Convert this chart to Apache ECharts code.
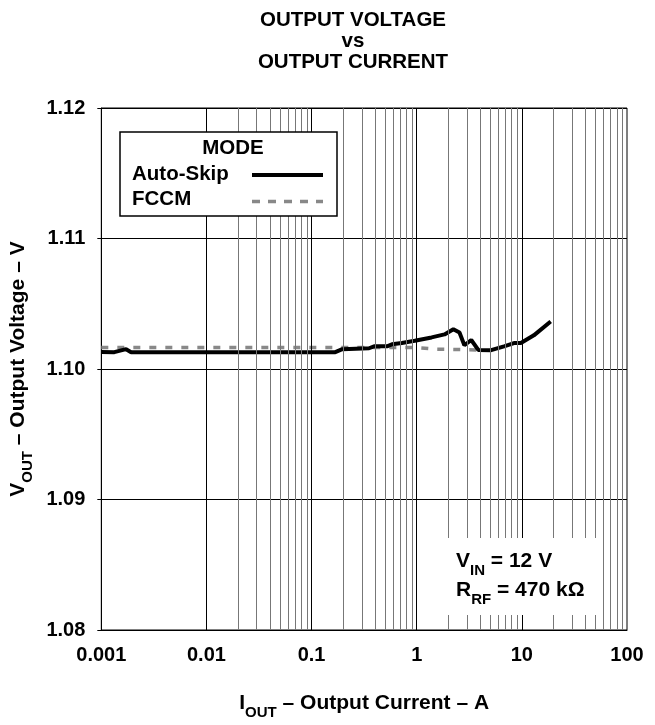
<!DOCTYPE html>
<html>
<head>
<meta charset="utf-8">
<script src="https://cdn.jsdelivr.net/npm/echarts@6/dist/echarts.min.js"></script>
<style>
html,body{margin:0;padding:0;background:#fff;}
#c{width:655px;height:725px;}
</style>
</head>
<body>
<div id="c"></div>
<script>
// ---- data ----
const xTicks = [0.001, 0.01, 0.1, 1, 10, 100];
const yTicks = [1.08, 1.09, 1.10, 1.11, 1.12];

const autoSkipI = [0.001, 0.00133, 0.00172, 0.00192, 0.168, 0.196, 0.352, 0.393, 0.521, 0.581, 0.722, 0.957, 1.385, 1.838, 2.23, 2.55, 2.84, 3.30, 3.85, 5.10, 6.77, 8.41, 9.79, 13.0, 18.8];
const autoSkipV = [1.1013, 1.10129, 1.10152, 1.10129, 1.10129, 1.10152, 1.10159, 1.10174, 1.10174, 1.10189, 1.10199, 1.10217, 1.10242, 1.10265, 1.10305, 1.1028, 1.10182, 1.10222, 1.10146, 1.10144, 1.10174, 1.10199, 1.10199, 1.10258, 1.10364];

const fccmI = [0.001, 0.2, 1.0, 1.5, 2.5, 4.0];
const fccmV = [1.10164, 1.10164, 1.10164, 1.10152, 1.10149, 1.10146];

const legendNames = ['Auto-Skip', 'FCCM'];
const legendTitle = 'MODE';

// minor log grid positions derived from decade ticks
const minorGrid = [];
for (let i = 0; i < xTicks.length - 1; i++) {
  for (let m = 2; m <= 9; m++) minorGrid.push(+(xTicks[i] * m).toPrecision(3));
}
const majorGrid = xTicks.slice(1, -1);

const FONT = '"Liberation Sans", Arial, sans-serif';
const chart = echarts.init(document.getElementById('c'), null, {renderer: 'canvas'});

const zip = (a, b) => a.map((v, i) => [v, b[i]]);
const richSub = {
  n: {fontFamily: FONT, fontWeight: 'bold', fontSize: 21, color: '#000'},
  s: {fontFamily: FONT, fontWeight: 'bold', fontSize: 15, color: '#000', padding: [19, 0, 0, 0]}
};

chart.setOption({
  backgroundColor: '#fff',
  animation: false,
  title: {
    text: 'OUTPUT VOLTAGE\nvs\nOUTPUT CURRENT',
    left: 348, top: 5, textAlign: 'center',
    textStyle: {fontFamily: FONT, fontWeight: 'bold', fontSize: 20.5, lineHeight: 21, color: '#000', align: 'center'}
  },
  grid: {left: 96, top: 108, width: 531, height: 528, show: true, borderColor: '#000', borderWidth: 1, backgroundColor: 'transparent'},
  xAxis: {
    type: 'log', logBase: 10, min: xTicks[0], max: xTicks[xTicks.length - 1],
    axisLine: {show: true, lineStyle: {color: '#000', width: 1}},
    axisTick: {show: false},
    splitLine: {show: false},
    axisLabel: {
      margin: 15, fontFamily: FONT, fontWeight: 'bold', fontSize: 20, color: '#000',
      formatter: v => { const t = xTicks.find(x => Math.abs(Math.log10(x) - Math.log10(v)) < 1e-6); return t === undefined ? '' : String(t); }
    },
    name: '{n|I}{s|OUT}{n| – Output Current – A}',
    nameLocation: 'middle', nameGap: 56,
    nameTextStyle: {fontFamily: FONT, color: '#000', rich: richSub}
  },
  yAxis: {
    type: 'value', min: yTicks[0], max: yTicks[yTicks.length - 1], interval: 0.01,
    axisLine: {show: true, lineStyle: {color: '#000'}},
    axisTick: {show: true, inside: false, length: 4, lineStyle: {color: '#000'}},
    splitLine: {show: true, lineStyle: {color: '#000', width: 1}},
    axisLabel: {margin: 16, fontFamily: FONT, fontWeight: 'bold', fontSize: 20, color: '#000', formatter: v => v.toFixed(2)},
    name: '{n|V}{s|OUT}{n| – Output Voltage – V}',
    nameLocation: 'middle', nameGap: 55, nameRotate: 90,
    nameTextStyle: {fontFamily: FONT, color: '#000', rich: richSub}
  },
  series: [
    {
      type: 'line', data: [], silent: true, z: 1,
      markLine: {
        silent: true, symbol: 'none', label: {show: false},
        lineStyle: {color: '#777', width: 1, type: 'solid'},
        data: minorGrid.map(v => ({xAxis: v}))
      }
    },
    {
      type: 'line', data: [], silent: true, z: 1,
      markLine: {
        silent: true, symbol: 'none', label: {show: false},
        lineStyle: {color: '#000', width: 1, type: 'solid'},
        data: majorGrid.map(v => ({xAxis: v}))
      }
    },
    {
      name: legendNames[1], type: 'line', data: zip(fccmI, fccmV), showSymbol: false, z: 3,
      lineStyle: {color: '#888', width: 3.5, type: [7, 9]}
    },
    {
      name: legendNames[0], type: 'line', data: zip(autoSkipI, autoSkipV), showSymbol: false, z: 4,
      lineStyle: {color: '#000', width: 4}
    }
  ],
  graphic: [
    {type: 'rect', z: 10, shape: {x: 120, y: 132, width: 217, height: 84}, style: {fill: '#fff', stroke: '#000', lineWidth: 1.5}},
    {type: 'text', z: 11, x: 233, y: 148, style: {text: legendTitle, font: 'bold 20.5px ' + FONT, fill: '#000', align: 'center', verticalAlign: 'middle'}},
    {type: 'text', z: 11, x: 132, y: 174, style: {text: legendNames[0], font: 'bold 20.5px ' + FONT, fill: '#000', align: 'left', verticalAlign: 'middle'}},
    {type: 'line', z: 11, shape: {x1: 252, y1: 175, x2: 323, y2: 175}, style: {stroke: '#000', lineWidth: 4}},
    {type: 'text', z: 11, x: 132, y: 199, style: {text: legendNames[1], font: 'bold 20.5px ' + FONT, fill: '#000', align: 'left', verticalAlign: 'middle'}},
    {type: 'line', z: 11, shape: {x1: 252, y1: 201.5, x2: 323, y2: 201.5}, style: {stroke: '#888', lineWidth: 3.5, lineDash: [8, 8]}},

    {type: 'rect', z: 10, shape: {x: 448, y: 538, width: 154, height: 77}, style: {fill: '#fff', lineWidth: 0}},
    {type: 'text', z: 11, x: 456, y: 561, style: {
      text: '{n|V}{s|IN}{n| = 12 V}', verticalAlign: 'middle', align: 'left',
      rich: {n: {font: 'bold 21px ' + FONT, fill: '#000'}, s: {font: 'bold 15px ' + FONT, fill: '#000', padding: [19, 0, 0, 0]}}
    }},
    {type: 'text', z: 11, x: 456, y: 590, style: {
      text: '{n|R}{s|RF}{n| = 470 kΩ}', verticalAlign: 'middle', align: 'left',
      rich: {n: {font: 'bold 21px ' + FONT, fill: '#000'}, s: {font: 'bold 15px ' + FONT, fill: '#000', padding: [19, 0, 0, 0]}}
    }}
  ]
});
</script>
</body>
</html>
